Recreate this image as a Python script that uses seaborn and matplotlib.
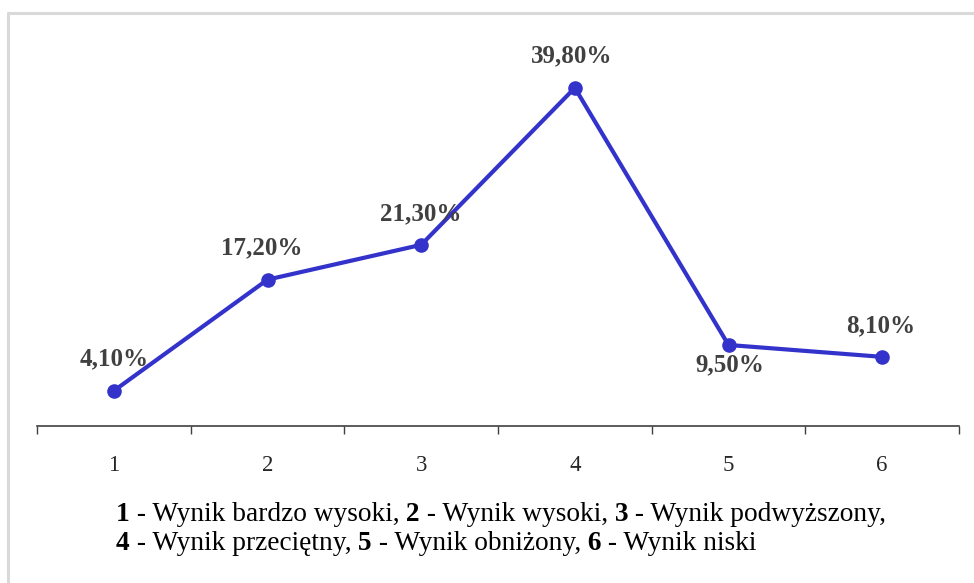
import matplotlib
matplotlib.use("Agg")
import matplotlib.pyplot as plt
from matplotlib.lines import Line2D
import seaborn as sns
import pandas as pd

# Data
categories = ["1", "2", "3", "4", "5", "6"]
shares = [4.1, 17.2, 21.3, 39.8, 9.5, 8.1]
value_labels = ["4,10%", "17,20%", "21,30%", "39,80%", "9,50%", "8,10%"]
legend_items = [
    ("1", "Wynik bardzo wysoki"),
    ("2", "Wynik wysoki"),
    ("3", "Wynik podwyższony"),
    ("4", "Wynik przeciętny"),
    ("5", "Wynik obniżony"),
    ("6", "Wynik niski"),
]

sns.set_theme(style="white")
plt.rcParams["font.family"] = ["Liberation Serif", "DejaVu Serif"]

TEXT = "#404040"
LINE = "#3333CC"

df = pd.DataFrame({"pos": range(len(categories)), "share": shares})

fig = plt.figure(figsize=(9.74, 5.83), dpi=100)
ax = fig.add_axes([0.038, 0.270, 0.9466, 0.655])

sns.lineplot(data=df, x="pos", y="share", ax=ax, color=LINE, linewidth=3.0,
             marker="o", markersize=10.5, markeredgewidth=0, markerfacecolor=LINE)

ax.set_xlim(-0.5, len(categories) - 0.5)
ax.set_ylim(0, 45)

# Data labels (offsets in points relative to each marker)
label_offsets = [(0, 23), (-4, 23), (0, 22.5), (-2, 23), (1, -14.5), (-1, 22)]
for x, y, txt, off in zip(df["pos"], shares, value_labels, label_offsets):
    ax.annotate(txt, (x, y), xytext=off, textcoords="offset points",
                ha="center", va="center", fontsize=18, fontweight="bold",
                color=TEXT)

# Axes: only the bottom baseline with boundary ticks
for side in ("top", "right", "left"):
    ax.spines[side].set_visible(False)
ax.spines["bottom"].set_color(TEXT)
ax.spines["bottom"].set_linewidth(1.2)
ax.set_yticks([])
ax.set_xticks([i - 0.5 for i in range(len(categories) + 1)])
ax.set_xticklabels([])
ax.tick_params(axis="x", which="major", direction="out", length=5.5,
               width=1.0, color=TEXT, bottom=True)
ax.set_xticks(range(len(categories)), minor=True)
ax.set_xticklabels(categories, minor=True)
ax.tick_params(axis="x", which="minor", length=0, pad=21, labelsize=16.5,
               labelcolor="#262626")
ax.set_xlabel("")
ax.set_ylabel("")

# Legend text below the axis: bold numbers followed by regular descriptions
LEG_SIZE = 19.7
lines = [legend_items[:3], legend_items[3:]]
line_y = [0.1063, 0.0566]
for r, (row, y) in enumerate(zip(lines, line_y)):
    prev = None
    for k, (num, desc) in enumerate(row):
        last = (r == len(lines) - 1) and (k == len(row) - 1)
        sep = "" if last else ","
        lead = "" if k == 0 else " "
        parts = [(lead + num, "bold"), (" - " + desc + sep, "normal")]
        for s, w in parts:
            if prev is None:
                prev = fig.text(0.119, y, s, fontsize=LEG_SIZE, fontweight=w,
                                color="black", va="baseline", ha="left")
            else:
                prev = ax.annotate(s, xy=(1, 0), xycoords=prev,
                                   xytext=(0, 0), textcoords="offset points",
                                   fontsize=LEG_SIZE, fontweight=w,
                                   color="black", va="bottom", ha="left",
                                   annotation_clip=False)

# Light frame along the top and left edges
fig.add_artist(Line2D([0.0085, 1.0], [0.977, 0.977], transform=fig.transFigure,
                      color="#d9d9d9", linewidth=2.2))
fig.add_artist(Line2D([0.0085, 0.0085], [0.0, 0.977], transform=fig.transFigure,
                      color="#d9d9d9", linewidth=2.2))

fig.savefig("out.png", dpi=100)
